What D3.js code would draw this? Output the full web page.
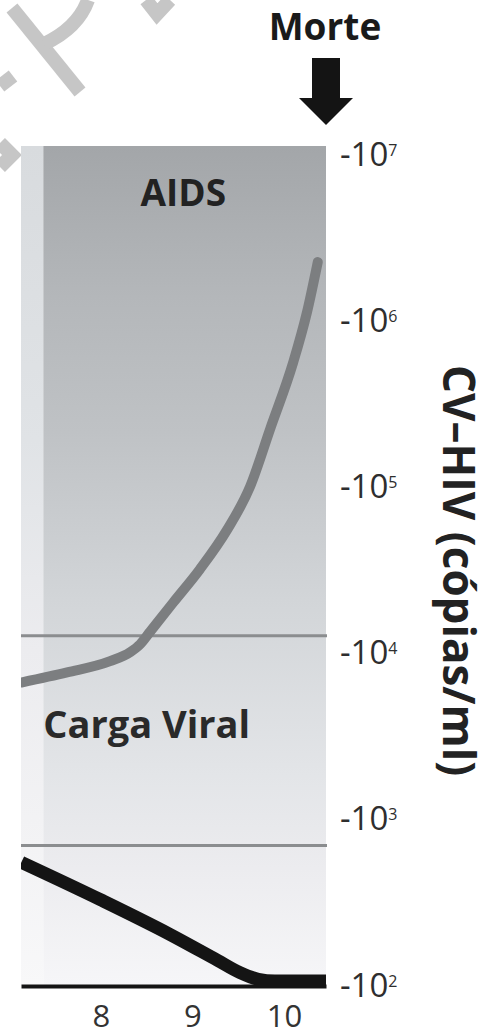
<!DOCTYPE html>
<html>
<head>
<meta charset="utf-8">
<script src="https://cdn.jsdelivr.net/npm/d3@7"></script>
<style>
  html, body { margin: 0; padding: 0; background: #fff; }
  svg { display: block; }
  text { font-family: "Open Sans", sans-serif; }
</style>
</head>
<body>
<div id="container"></div>
<script>
// years since infection (only the last part of the timeline is visible)
var years = [7.13, 7.63, 8.1, 8.32, 8.43, 8.54, 8.79, 9.08, 9.38, 9.63, 9.85, 10.1, 10.25, 10.37];
// CV-HIV, copies/ml
var viralLoad = [6700, 7700, 9000, 10200, 11400, 13600, 20300, 32100, 55700, 101000, 225000, 562000, 1120000, 2270000];

// CD4 count (its own axis is cut off on the left side of the picture)
var cd4Years = [7.13, 8.0, 8.75, 9.27, 9.52, 9.72, 9.9, 10.46];
var cd4Counts = [142, 97, 56, 25, 10, 2, 0, 0];

var xTicks = [8, 9, 10];
var yTicks = [1e2, 1e3, 1e4, 1e5, 1e6, 1e7];
var thresholds = [12800, 700];

var phaseNames = ["", "AIDS"];
var phaseStarts = [7.126, 7.37];
var phaseEnds = [7.37, 10.46];
var deathYear = 10.46;

var width = 495;
var height = 1036;
var plotTop = 146;

var svg = d3.select("#container")
            .append("svg")
            .attr("width", width)
            .attr("height", height);

var x = d3.scaleLinear().domain([7.126, 10.46]).range([21, 326]);
var y = d3.scaleLog().domain([1e2, 1e7]).range([986, 155]);
var yCd4 = d3.scaleLinear().domain([0, 1000]).range([981, 145]);

var defs = svg.append("defs");

function gradient(id, stops) {
    var g = defs.append("linearGradient")
                .attr("id", id)
                .attr("gradientUnits", "userSpaceOnUse")
                .attr("x1", 0).attr("x2", 0)
                .attr("y1", plotTop).attr("y2", y(1e2));
    stops.forEach(s => g.append("stop").attr("offset", s[0]).attr("stop-color", s[1]));
}
gradient("preFill", [[0, "#d8dbde"], [0.35, "#e0e3e6"], [0.6, "#ececef"], [1, "#f8f8f9"]]);
gradient("aidsFill", [[0, "#a3a6a9"], [0.18, "#b4b7ba"], [0.34, "#bfc2c5"], [0.54, "#d2d5d8"],
                      [0.75, "#e3e5e8"], [0.86, "#ececef"], [1, "#f6f6f8"]]);

defs.append("clipPath").attr("id", "plotClip")
    .append("rect")
    .attr("x", x(phaseStarts[0])).attr("y", 0)
    .attr("width", width).attr("height", height);

// watermark pieces at the top left
svg.append("g")
   .attr("fill", "none")
   .attr("stroke", "#c6c6c6")
   .attr("stroke-width", 14)
   .selectAll("path")
   .data(["M12,8 L80,92", "M88,0 Q78,28 44,44", "M0,86 L13,76", "M0,143 L12,155 L0,167", "M146,0 L157,14 L170,0"])
   .join("path")
   .attr("d", d => d);

// phase backgrounds
svg.append("g")
   .selectAll("rect")
   .data(phaseNames)
   .join("rect")
   .attr("x", (d, i) => x(phaseStarts[i]))
   .attr("width", (d, i) => x(phaseEnds[i]) - x(phaseStarts[i]))
   .attr("y", plotTop)
   .attr("height", y(1e2) - plotTop)
   .attr("fill", (d, i) => i == 0 ? "url(#preFill)" : "url(#aidsFill)");

// threshold lines
svg.append("g")
   .selectAll("line")
   .data(thresholds)
   .join("line")
   .attr("x1", x(phaseStarts[0]))
   .attr("x2", x(deathYear) + 1)
   .attr("y1", d => y(d))
   .attr("y2", d => y(d))
   .attr("stroke", "#8b8d8f")
   .attr("stroke-width", 3);

var plot = svg.append("g").attr("clip-path", "url(#plotClip)");

// viral load
var vlLine = d3.line()
    .x((d, i) => x(years[i]))
    .y(d => y(d))
    .curve(d3.curveMonotoneX);

plot.append("path")
    .datum(viralLoad)
    .attr("d", vlLine)
    .attr("fill", "none")
    .attr("stroke", "#7c7e80")
    .attr("stroke-width", 10)
    .attr("stroke-linecap", "round");

// CD4
var cd4Line = d3.line()
    .x((d, i) => x(cd4Years[i]))
    .y(d => yCd4(d))
    .curve(d3.curveMonotoneX);

plot.append("path")
    .datum(cd4Counts)
    .attr("d", cd4Line)
    .attr("fill", "none")
    .attr("stroke", "#141414")
    .attr("stroke-width", 13);

// x axis
var xAxis = svg.append("g")
   .attr("transform", "translate(0," + y(1e2) + ")")
   .call(d3.axisBottom(x).tickValues(xTicks).tickSize(0).tickFormat(d3.format("d")));
xAxis.attr("font-family", null).attr("font-size", null);
xAxis.select(".domain").attr("stroke", "#141414").attr("stroke-width", 4);
xAxis.selectAll(".tick text")
     .attr("y", 41)
     .attr("dy", 0)
     .attr("font-size", 31)
     .attr("fill", "#333");

// y axis (right)
var yAxis = svg.append("g")
   .attr("transform", "translate(340,0)")
   .call(d3.axisRight(y).tickValues(yTicks).tickSize(0).tickPadding(0).tickFormat(d => "-10"));
yAxis.attr("font-family", null).attr("font-size", null);
yAxis.select(".domain").remove();
yAxis.selectAll(".tick text")
     .attr("x", 0)
     .attr("dy", 10)
     .attr("font-size", 33)
     .attr("fill", "#2e2e2e")
     .append("tspan")
     .attr("dy", -10)
     .attr("font-size", 16)
     .text(d => Math.round(Math.log10(d)));

svg.append("text")
   .attr("transform", "translate(443," + y(Math.sqrt(1e2 * 1e7)) + ") rotate(90)")
   .attr("text-anchor", "middle")
   .attr("font-size", 44)
   .attr("font-weight", "bold")
   .attr("fill", "#222")
   .text("CV–HIV (cópias/ml)");

// labels
svg.append("text")
   .attr("x", x(8.9))
   .attr("y", y(4.9e6))
   .attr("text-anchor", "middle")
   .attr("font-size", 37)
   .attr("font-weight", "bold")
   .attr("fill", "#222")
   .text(phaseNames[1]);

svg.append("text")
   .attr("x", x(phaseStarts[1]))
   .attr("y", y(3100))
   .attr("font-size", 38)
   .attr("font-weight", "bold")
   .attr("fill", "#2a2a2a")
   .text("Carga Viral");

// death marker
var cx = x(deathYear);
svg.append("path")
   .attr("d", "M" + (cx - 14) + ",58 H" + (cx + 14) + " V98 H" + (cx + 27) + " L" + cx + ",125 L" + (cx - 27) + ",98 H" + (cx - 14) + " Z")
   .attr("fill", "#141414");

svg.append("text")
   .attr("x", cx - 1)
   .attr("y", 40)
   .attr("text-anchor", "middle")
   .attr("font-size", 37)
   .attr("font-weight", "bold")
   .attr("fill", "#1a1a1a")
   .text("Morte");
</script>
</body>
</html>
